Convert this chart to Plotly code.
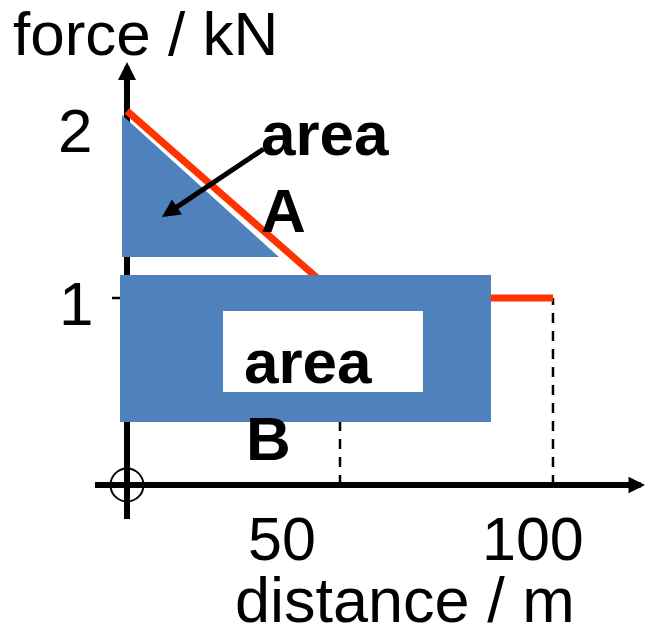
import plotly.graph_objects as go

# ---- data ----
distance = [0, 50, 100]          # m
force = [2, 1, 1]                # kN
drop_distances = [50, 100]       # dashed drop lines
x_tick_labels = ["50", "100"]
y_tick_labels = ["2", "1"]

# schematic "area" patches, in data units
area_a_x = [-1.17, -1.17, 35.68]
area_a_y = [1.979, 1.219, 1.219]
area_b_x = [-1.64, 85.45]
area_b_y = [0.337, 1.123]
label_box_x = [22.54, 69.48]
label_box_y = [0.497, 0.930]

# ---- layout constants ----
W, H = 645, 634
X_RANGE = [-29.81, 121.60]
Y_RANGE = [-0.7968, 2.5936]
BLUE = "#4F81BD"
RED = "#FF3300"
FONT = "Liberation Sans, Arial, sans-serif"


def px_x(p):
    return X_RANGE[0] + p / W * (X_RANGE[1] - X_RANGE[0])


def px_y(p):
    return Y_RANGE[1] - p / H * (Y_RANGE[1] - Y_RANGE[0])


fig = go.Figure()

# axes lines (beneath patches)
fig.add_trace(go.Scatter(x=[px_x(95), px_x(632)], y=[0, 0], mode="lines",
                         line=dict(color="black", width=6), hoverinfo="skip"))
fig.add_trace(go.Scatter(x=[0, 0], y=[px_y(519), px_y(78)], mode="lines",
                         line=dict(color="black", width=6), hoverinfo="skip"))
# tick at 1
fig.add_trace(go.Scatter(x=[px_x(112), 0], y=[1, 1], mode="lines",
                         line=dict(color="black", width=2.5), hoverinfo="skip"))

# dashed drop lines
for d in drop_distances:
    fig.add_trace(go.Scatter(x=[d, d], y=[0, force[-1]], mode="lines",
                             line=dict(color="black", width=2.5, dash="10px,8px"),
                             hoverinfo="skip"))

# force-distance line
fig.add_trace(go.Scatter(x=distance, y=force, mode="lines",
                         line=dict(color=RED, width=7), hoverinfo="skip"))

# area A triangle
fig.add_trace(go.Scatter(x=area_a_x + [area_a_x[0]], y=area_a_y + [area_a_y[0]],
                         mode="lines", fill="toself", fillcolor=BLUE,
                         line=dict(width=0, color=BLUE), hoverinfo="skip"))
# area B rectangle
bx = [area_b_x[0], area_b_x[1], area_b_x[1], area_b_x[0], area_b_x[0]]
by = [area_b_y[0], area_b_y[0], area_b_y[1], area_b_y[1], area_b_y[0]]
fig.add_trace(go.Scatter(x=bx, y=by, mode="lines", fill="toself", fillcolor=BLUE,
                         line=dict(width=0, color=BLUE), hoverinfo="skip"))
lx = [label_box_x[0], label_box_x[1], label_box_x[1], label_box_x[0], label_box_x[0]]
ly = [label_box_y[0], label_box_y[0], label_box_y[1], label_box_y[1], label_box_y[0]]
fig.add_trace(go.Scatter(x=lx, y=ly, mode="lines", fill="toself", fillcolor="white",
                         line=dict(width=0, color="white"), hoverinfo="skip"))

# origin circle
fig.add_shape(type="circle", xref="x", yref="y", xsizemode="pixel", ysizemode="pixel",
              xanchor=0, yanchor=0, x0=-16.5, x1=16.5, y0=-16.5, y1=16.5,
              line=dict(color="black", width=2), layer="above")

annotations = []
# axis arrowheads
annotations.append(dict(x=px_x(645), y=0, ax=px_x(625), ay=0, xref="x", yref="y",
                        axref="x", ayref="y", text="", showarrow=True, arrowhead=2,
                        arrowwidth=6, arrowsize=0.55, arrowcolor="black"))
annotations.append(dict(x=0, y=px_y(62), ax=0, ay=px_y(90), xref="x", yref="y",
                        axref="x", ayref="y", text="", showarrow=True, arrowhead=2,
                        arrowwidth=6, arrowsize=0.6, arrowcolor="black"))
# pointer arrow to area A
annotations.append(dict(x=px_x(162), y=px_y(217), ax=px_x(265), ay=px_y(148),
                        xref="x", yref="y", axref="x", ayref="y", text="",
                        showarrow=True, arrowhead=2, arrowwidth=5, arrowsize=0.72,
                        arrowcolor="black"))


def txt(text, cx, cy, size=62, bold=False, xanchor="center"):
    annotations.append(dict(text=f"<b>{text}</b>" if bold else text,
                            x=cx / W, y=1 - cy / H, xref="paper", yref="paper",
                            xanchor=xanchor, yanchor="middle", showarrow=False,
                            font=dict(family=FONT, size=size, color="black")))


txt("force / kN", 145, 33.5)
txt("distance / m", 405, 599.5, size=63)
txt(y_tick_labels[0], 75, 130.5)
txt(y_tick_labels[1], 76, 303.5)
txt(x_tick_labels[0], 282, 538.5, size=61)
txt(x_tick_labels[1], 533, 538.5, size=61)
txt("area", 259, 133.5, bold=True, xanchor="left")
txt("A", 259, 210.5, bold=True, xanchor="left")
txt("area", 242, 361.5, bold=True, xanchor="left")
txt("B", 244, 438.5, bold=True, xanchor="left")

fig.update_layout(
    width=W, height=H, margin=dict(l=0, r=0, t=0, b=0),
    paper_bgcolor="white", plot_bgcolor="white", showlegend=False,
    xaxis=dict(range=X_RANGE, visible=False, fixedrange=True),
    yaxis=dict(range=Y_RANGE, visible=False, fixedrange=True),
    annotations=annotations,
)

fig.write_html("out.html", config={"displayModeBar": False},
               post_script="document.body.style.margin='0';document.body.style.overflow='hidden';")
